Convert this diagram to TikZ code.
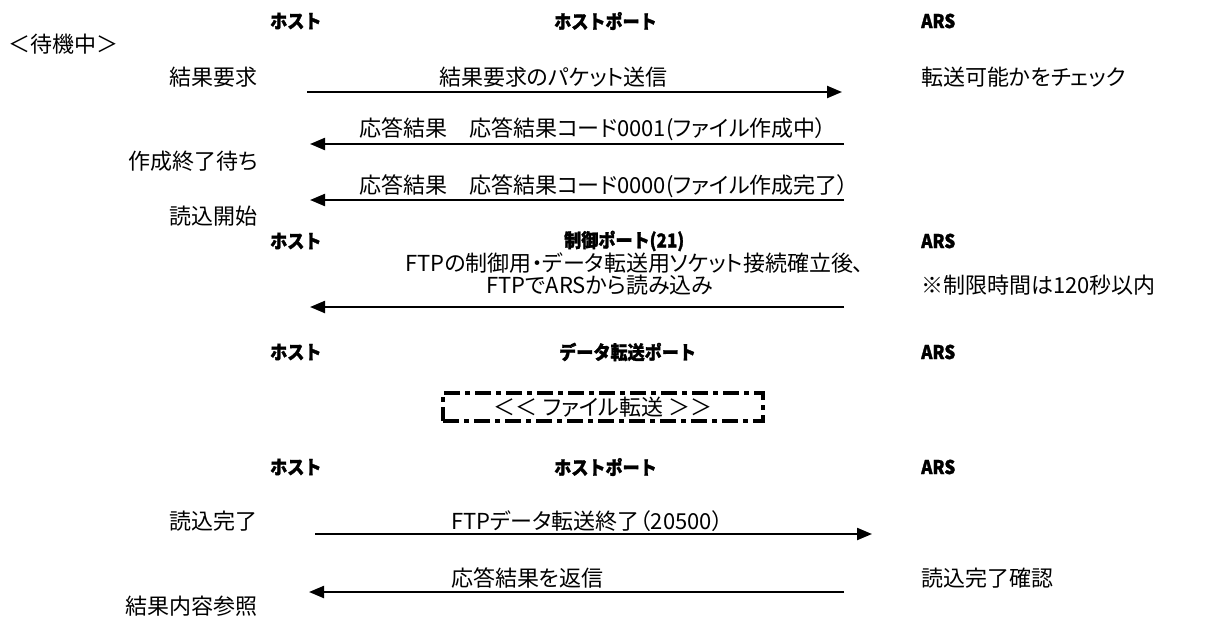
\documentclass[tikz,border=0pt]{standalone}
\usepackage{fontspec}
\setmainfont{Noto Sans CJK JP}[RawFeature=+palt]
\newfontfamily\hdrfont{Noto Sans CJK JP}[FakeStretch=0.9,BoldFeatures={FakeBold=1.5}]
\usetikzlibrary{arrows.meta}
\begin{document}
\begin{tikzpicture}[x=1pt,y=-1pt,
  txt/.style={inner sep=0pt,font=\fontsize{22}{26}\selectfont},
  hdr/.style={inner sep=0pt,font=\hdrfont\bfseries\fontsize{19}{22}\selectfont},
  msg/.style={line width=2.2pt,-{Triangle[length=15pt,width=12pt]}},
  xferbox/.style={draw,line width=3.8pt,dash pattern=on 16pt off 5pt on 5pt off 5pt,
    minimum width=320pt,minimum height=28pt,inner sep=0pt,font=\fontsize{22}{26}\selectfont}]
\useasboundingbox (0,0) rectangle (1215,621);
% header row 1
\node[hdr,anchor=west] (h1) at (270,21) {ホスト};
\node[hdr,anchor=west] (p1) at (554,21) {ホストポート};
\node[hdr,anchor=west] (a1) at (921,21) {ARS};
\node[txt,anchor=west] (wait) at (8,44) {＜待機中＞};
% row 1
\node[txt,anchor=east] (req) at (258,77) {結果要求};
\node[txt,anchor=west] (m1) at (439,77) {結果要求のパケット送信};
\node[txt,anchor=west] (chk) at (921,77) {転送可能かをチェック};
\coordinate (s1) at (307,92);
\coordinate (e1) at (842,92);
\draw[msg] (s1) -- (e1);
% row 2
\node[txt,anchor=west] (m2) at (359,129) {応答結果　応答結果コード0001(ファイル作成中）};
\coordinate (s2) at (844,144);
\coordinate (e2) at (310,144);
\draw[msg] (s2) -- (e2);
\node[txt,anchor=east] (w2) at (258,161) {作成終了待ち};
% row 3
\node[txt,anchor=west] (m3) at (359,186) {応答結果　応答結果コード0000(ファイル作成完了）};
\coordinate (s3) at (844,200);
\coordinate (e3) at (310,200);
\draw[msg] (s3) -- (e3);
\node[txt,anchor=east] (rs) at (258,216) {読込開始};
% header row 2
\node[hdr,anchor=west] (h2) at (270,241) {ホスト};
\node[hdr,anchor=west] (p2) at (564,241) {制御ポート(21)};
\node[hdr,anchor=west] (a2) at (921,241) {ARS};
\node[txt,anchor=west] (f1) at (405,263) {FTPの制御用・データ転送用ソケット接続確立後、};
\node[txt,anchor=west] (f2) at (486,285) {FTPでARSから読み込み};
\node[txt,anchor=west] (lim) at (921,285) {※制限時間は120秒以内};
\coordinate (s4) at (844,307);
\coordinate (e4) at (310,307);
\draw[msg] (s4) -- (e4);
% header row 3
\node[hdr,anchor=west] (h3) at (270,352) {ホスト};
\node[hdr,anchor=west] (p3) at (559,352) {データ転送ポート};
\node[hdr,anchor=west] (a3) at (921,352) {ARS};
\node[xferbox] (xfer) at (603,407) {＜＜ ファイル転送 ＞＞};
% header row 4
\node[hdr,anchor=west] (h4) at (270,467) {ホスト};
\node[hdr,anchor=west] (p4) at (554,467) {ホストポート};
\node[hdr,anchor=west] (a4) at (921,467) {ARS};
% row 5
\node[txt,anchor=east] (done) at (258,521) {読込完了};
\node[txt,anchor=west] (m5) at (451,521) {FTPデータ転送終了（20500）};
\coordinate (s5) at (315,534);
\coordinate (e5) at (872,534);
\draw[msg] (s5) -- (e5);
% row 6
\node[txt,anchor=west] (m6) at (451,578) {応答結果を返信};
\node[txt,anchor=west] (conf) at (921,578) {読込完了確認};
\coordinate (s6) at (844,592);
\coordinate (e6) at (309,592);
\draw[msg] (s6) -- (e6);
\node[txt,anchor=east] (ref) at (258,606) {結果内容参照};
\end{tikzpicture}
\end{document}
